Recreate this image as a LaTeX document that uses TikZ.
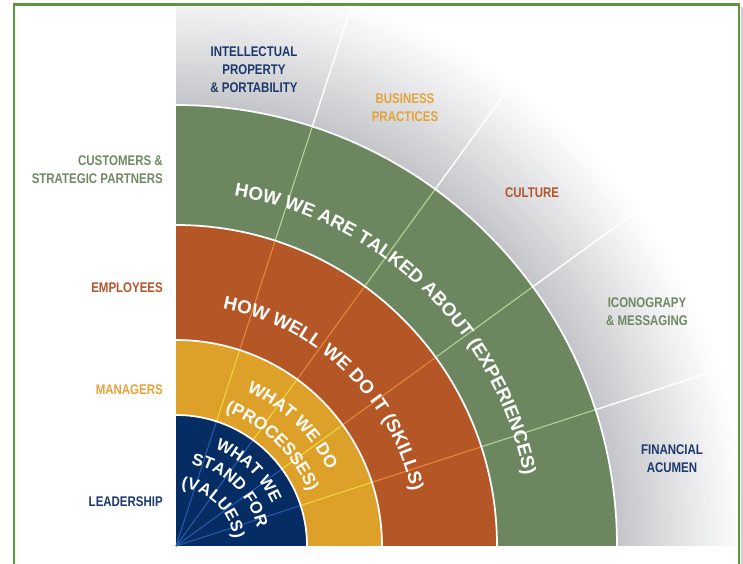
\documentclass[tikz,border=0pt]{standalone}
\usepackage{fontspec}
\setmainfont{Liberation Sans}
\newfontfamily\narrow[FakeStretch=0.82]{Liberation Sans}
\usepackage{xcolor}
\usetikzlibrary{decorations.text}
\definecolor{navy}{RGB}{5,44,99}
\definecolor{gold}{RGB}{221,160,40}
\definecolor{rust}{RGB}{181,86,39}
\definecolor{sage}{RGB}{108,135,96}
\definecolor{fan}{RGB}{196,197,201}
\definecolor{frame}{RGB}{92,150,62}
\definecolor{tblue}{RGB}{28,57,110}
\definecolor{tgold}{RGB}{226,164,58}
\definecolor{trust}{RGB}{180,84,42}
\definecolor{tsage}{RGB}{111,138,99}
\definecolor{sblue}{RGB}{40,90,170}
\definecolor{sgold}{RGB}{240,214,62}
\definecolor{srust}{RGB}{228,136,56}
\definecolor{ssage}{RGB}{182,210,152}

\begin{document}
\begin{tikzpicture}[x=0.75pt,y=0.75pt,
  lbl/.style={font=\narrow\bfseries\fontsize{10.5}{13.5}\selectfont, align=center, inner sep=0pt},
  curved/.style 2 args={decorate, decoration={text along path, text align=center, text={|\fontsize{#1}{#1}\selectfont\bfseries\color{white}|#2}}},
  sep/.style={white, line width=1.3}]
\useasboundingbox (0,0) rectangle (743,564);
\fill[black!18] (740.5,0) rectangle (743,557);
\draw[frame, line width=1.6] (14,0) -- (14,559.5) -- (739,559.5) -- (739,0);
\begin{scope}[shift={(176,18)}]
\coordinate (O) at (0,0);
\begin{scope}
\clip (0,0) rectangle (561,538);
\foreach \k in {0,...,44}{
  \pgfmathsetmacro\rr{575-3*\k}
  \pgfmathtruncatemacro\pp{100*(\k/44)^1.1}
  \fill[fan!\pp!white] (O) circle[radius=\rr];
}
\foreach \a in {18,36,54,72} \draw[white, line width=1.1] (\a:441) -- (\a:600);
\end{scope}
\fill[sage] (O) -- (0:441) arc[start angle=0, end angle=90, radius=441] -- cycle;
\fill[rust] (O) -- (0:321) arc[start angle=0, end angle=90, radius=321] -- cycle;
\fill[gold] (O) -- (0:206) arc[start angle=0, end angle=90, radius=206] -- cycle;
\fill[navy] (O) -- (0:131) arc[start angle=0, end angle=90, radius=131] -- cycle;
\foreach \a in {18,36,54,72}{
  \draw[sblue, line width=0.8] (O) -- (\a:131);
  \draw[sgold, line width=0.8] (\a:131) -- (\a:206);
  \draw[srust, line width=0.8] (\a:206) -- (\a:321);
  \draw[ssage, line width=0.8] (\a:321) -- (\a:441);
}
\foreach \r in {131,206,321,441} \draw[sep] (\r,0) arc[start angle=0, end angle=90, radius=\r];
\path[curved={14}{HOW WE ARE TALKED ABOUT (EXPERIENCES)}] (92:355) arc[start angle=92, end angle=0, radius=355];
\path[curved={14}{HOW WELL WE DO IT (SKILLS)}] (92:242) arc[start angle=92, end angle=0, radius=242];
\path[curved={13}{WHAT WE DO}] (92:170) arc[start angle=92, end angle=0, radius=170];
\path[curved={13}{(PROCESSES)}] (92:143) arc[start angle=92, end angle=0, radius=143];
\path[curved={12.5}{WHAT WE}] (92:105) arc[start angle=92, end angle=0, radius=105];
\path[curved={12.5}{STAND FOR}] (92:83) arc[start angle=92, end angle=0, radius=83];
\path[curved={12.5}{(VALUES)}] (92:58) arc[start angle=92, end angle=0, radius=58];
\end{scope}
\node[lbl, text=tsage, align=right, anchor=east] (C) at (163,394) {CUSTOMERS \&\\STRATEGIC PARTNERS};
\node[lbl, text=trust, anchor=east] (E) at (163,276) {EMPLOYEES};
\node[lbl, text=tgold, anchor=east] (M) at (163,174) {MANAGERS};
\node[lbl, text=tblue, anchor=east] (L) at (163,62.5) {LEADERSHIP};
\node[lbl, text=tblue] (I) at (254,494) {INTELLECTUAL\\PROPERTY\\\& PORTABILITY};
\node[lbl, text=tgold] (B) at (405,456) {BUSINESS\\PRACTICES};
\node[lbl, text=trust] (U) at (532,371) {CULTURE};
\node[lbl, text=tsage] (G) at (647,252) {ICONOGRAPY\\\& MESSAGING};
\node[lbl, text=tblue] (F) at (672,105) {FINANCIAL\\ACUMEN};
\end{tikzpicture}
\end{document}
